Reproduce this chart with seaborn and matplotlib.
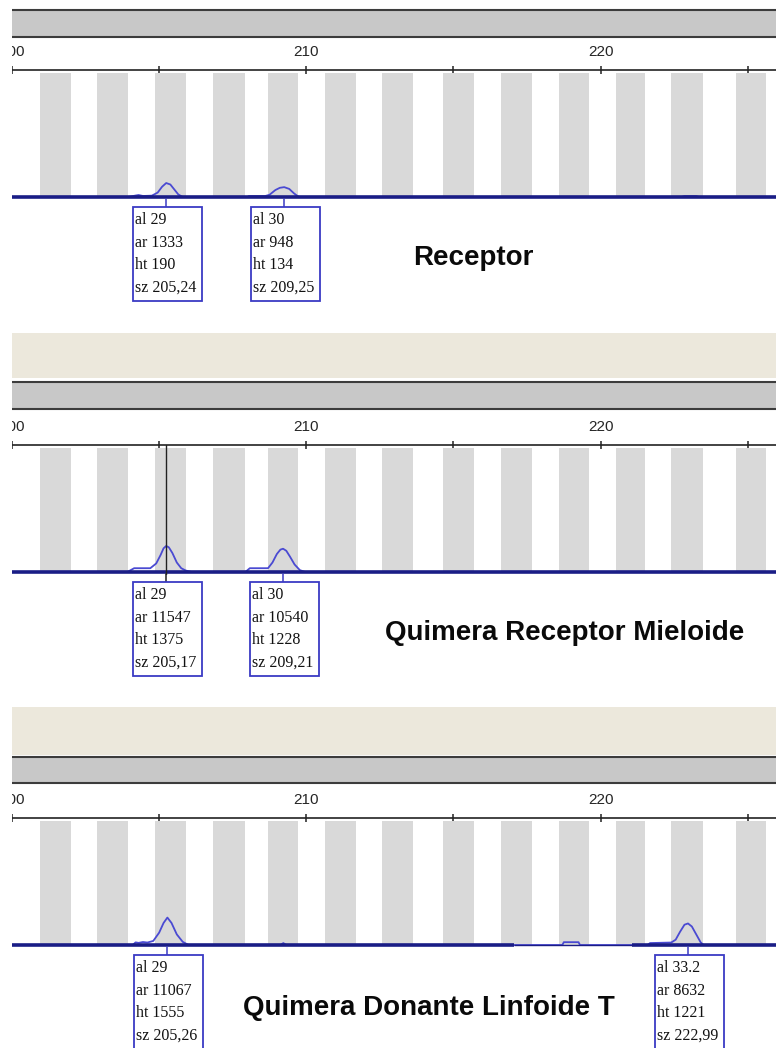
"""Electropherogram panels (receptor / chimera) redrawn with seaborn + matplotlib."""

import matplotlib

matplotlib.use("Agg")
import matplotlib.pyplot as plt
import matplotlib.transforms as mtransforms
import seaborn as sns
from matplotlib.patches import Rectangle

W, H = 776, 1048

sns.set_theme(style="white")
plt.rcParams["font.family"] = ["Liberation Sans", "DejaVu Sans"]

# x axis (base pairs)
X_LEFT, X_RIGHT = 200.0, 225.96
TICKS = [200, 205, 210, 215, 220, 225]
TICK_LABELS = ["200", "", "210", "", "220", ""]

# allele bins, same for the three panels
BIN_LO = [200.96, 202.90, 204.87, 206.84, 208.71, 210.64, 212.58,
          214.65, 216.62, 218.59, 220.54, 222.40, 224.60]
BIN_HI = [202.01, 203.95, 205.92, 207.92, 209.72, 211.69, 213.63,
          215.70, 217.67, 219.61, 221.51, 223.48, 225.62]

# traces: size (bp) / height (rfu)
P1_SIZE = [200.0, 203.95, 204.20, 204.30, 204.45, 204.75, 204.95, 205.10, 205.24,
           205.38, 205.52, 205.65, 205.80, 208.00, 208.05, 208.60, 208.75, 208.95,
           209.10, 209.25, 209.42, 209.58, 209.72, 209.78, 222.75, 222.85, 223.25,
           223.35, 225.96]
P1_RFU = [0, 0, 20, 27, 14, 18, 60, 140, 190, 170, 100, 35, 0,
          0, 13, 13, 30, 95, 125, 134, 110, 50, 8, 0,
          0, 12, 12, 0, 0]

P2_SIZE = [200.0, 203.92, 204.15, 204.70, 204.90, 205.05, 205.15, 205.24, 205.33,
           205.45, 205.60, 205.75, 205.90, 206.10, 207.93, 208.08, 208.70, 208.85,
           209.00, 209.12, 209.21, 209.32, 209.45, 209.60, 209.78, 209.96, 225.96]
P2_RFU = [0, 0, 200, 200, 450, 900, 1250, 1375, 1300, 1000, 500, 200, 80, 0,
          0, 200, 200, 500, 950, 1180, 1228, 1120, 800, 400, 100, 0, 0]

P3_SIZE = [200.0, 204.10, 204.20, 204.30, 204.45, 204.60, 204.80, 205.00, 205.15,
           205.28, 205.42, 205.60, 205.80, 206.00, 209.12, 209.22, 209.32, 218.70,
           218.75, 219.25, 219.30, 221.60, 221.68, 222.40, 222.55, 222.70, 222.85,
           222.97, 223.10, 223.25, 223.40, 223.50, 225.96]
P3_RFU = [0, 0, 150, 120, 170, 140, 230, 700, 1250, 1555, 1250, 600, 180, 0,
          0, 110, 0, 0, 160, 160, 0,
          0, 110, 140, 300, 750, 1150, 1221, 1050, 600, 150, 0, 0]

# where the thick baseline is missing in panel 3
P3_GAP = (217.06, 221.07)

# peak calls: position of the call line and the label text
P1_CALL_AT = [205.24, 209.25]
P1_CALLS = [["al 29", "ar 1333", "ht 190", "sz 205,24"],
            ["al 30", "ar 948", "ht 134", "sz 209,25"]]
P2_CALL_AT = [205.24, 209.21]
P2_CALLS = [["al 29", "ar 11547", "ht 1375", "sz 205,17"],
            ["al 30", "ar 10540", "ht 1228", "sz 209,21"]]
P3_CALL_AT = [205.28, 222.97]
P3_CALLS = [["al 29", "ar 11067", "ht 1555", "sz 205,26"],
            ["al 33.2", "ar 8632", "ht 1221", "sz 222,99"]]

P2_CURSOR = 205.24

TITLES = ["Receptor", "Quimera Receptor Mieloide", "Quimera Donante Linfoide T"]

# page layout in pixels (top-down)
LEFT_PX = 12
RULER_Y = [70, 445, 818]
BASE_Y = [197, 572, 945]
BAR_Y = [(10, 37), (382, 409), (757, 783)]
BEIGE_Y = [None, (333, 378), (707, 755)]
TITLE_XY = [(473, 265), (565, 640), (429, 1015)]
Y_TOP = [1727, 6700, 7200]

STRIPE = "#d9d9d9"
BASE_COL = "#1a1d86"
TRACE_COL = "#4a4ad2"
BOX_COL = "#3a3ac4"


def px_axes(fig, x0, y0, x1, y1):
    return fig.add_axes([x0 / W, 1 - y1 / H, (x1 - x0) / W, (y1 - y0) / H])


def plain(ax, color):
    ax.set_facecolor(color)
    ax.set_xticks([])
    ax.set_yticks([])
    for s in ax.spines.values():
        s.set_visible(False)


def call_box(ax, at, lines, line_col):
    # pixel offsets measured from the call position on the baseline
    trans = mtransforms.ScaledTranslation(at, 0, ax.transData)
    ax.plot([0, 0], [-2, -10], transform=trans, color=line_col, lw=1.1,
            clip_on=False, zorder=5)
    ax.add_patch(Rectangle((-33, -104), 69, 94, transform=trans, fc="white",
                           ec=BOX_COL, lw=1.3, clip_on=False, zorder=5))
    for i, s in enumerate(lines):
        ax.text(-31, -23 - 22.7 * i, s, transform=trans, ha="left", va="center",
                fontsize=11.5, family=["Liberation Serif", "DejaVu Serif"],
                color="#111111", clip_on=False, zorder=6)


def panel(fig, k, sizes, rfu, call_at, calls, gap=None, cursor=None):
    if BEIGE_Y[k] is not None:
        b0, b1 = BEIGE_Y[k]
        plain(px_axes(fig, LEFT_PX, b0, W, b1), "#ece8dc")

    t0, t1 = BAR_Y[k]
    bar = px_axes(fig, LEFT_PX, t0, W, t1)
    plain(bar, "#c8c8c8")
    for side in ("top", "bottom"):
        bar.spines[side].set_visible(True)
        bar.spines[side].set_color("#3c3c3c")
        bar.spines[side].set_linewidth(1.5)

    ax = px_axes(fig, LEFT_PX, RULER_Y[k], W, BASE_Y[k] + 3)
    ymax = Y_TOP[k]
    ax.set_facecolor("white")

    # allele bins
    widths = [hi - lo for lo, hi in zip(BIN_LO, BIN_HI)]
    ax.bar(BIN_LO, ymax * 124 / 127, width=widths, bottom=0, align="edge",
           color=STRIPE, lw=0, zorder=1)

    # trace sits under the thick baseline, so only the peaks show in light blue
    sns.lineplot(x=sizes, y=rfu, ax=ax, color=TRACE_COL, lw=1.3, estimator=None,
                 sort=False, zorder=2)

    if gap is None:
        ax.hlines(0, X_LEFT, X_RIGHT, color=BASE_COL, lw=2.6, zorder=3)
    else:
        ax.hlines([0, 0], [X_LEFT, gap[1]], [gap[0], X_RIGHT], color=BASE_COL,
                  lw=2.6, zorder=3)
        ax.hlines(0, gap[0], gap[1], color=BASE_COL, lw=1.0, zorder=3)

    if cursor is not None:
        ax.axvline(cursor, color="#222222", lw=1.0, zorder=4)

    for at, lines in zip(call_at, calls):
        line_col = "#222222" if cursor is not None and abs(at - cursor) < 0.05 else BOX_COL
        call_box(ax, at, lines, line_col)

    ax.set_xlim(X_LEFT, X_RIGHT)
    ax.set_ylim(-ymax * 3 / 127, ymax)
    ax.set_xlabel("")
    ax.set_ylabel("")
    ax.set_yticks([])
    ax.set_xticks(TICKS)
    ax.set_xticklabels(TICK_LABELS)
    ax.xaxis.set_ticks_position("top")
    ax.tick_params(axis="x", direction="inout", length=6, width=1.1, pad=5,
                   labelsize=11, color="#222222", labelcolor="#262626")
    for side, s in ax.spines.items():
        s.set_visible(side == "top")
    ax.spines["top"].set_color("#222222")
    ax.spines["top"].set_linewidth(1.2)

    tx, ty = TITLE_XY[k]
    fig.text(tx / W, 1 - ty / H, TITLES[k], ha="center", va="baseline",
             fontsize=20, fontweight="bold", color="#0a0a0a")


fig = plt.figure(figsize=(W / 100, H / 100), dpi=100)
fig.patch.set_facecolor("white")

panel(fig, 0, P1_SIZE, P1_RFU, P1_CALL_AT, P1_CALLS)
panel(fig, 1, P2_SIZE, P2_RFU, P2_CALL_AT, P2_CALLS, cursor=P2_CURSOR)
panel(fig, 2, P3_SIZE, P3_RFU, P3_CALL_AT, P3_CALLS, gap=P3_GAP)

# the screenshot is cut at the left, hiding half of the "200" labels
fig.add_artist(Rectangle((0, 0), LEFT_PX / W, 1, transform=fig.transFigure,
                         fc="white", ec="none", zorder=20))

fig.savefig("out.png", dpi=100)
plt.close(fig)
